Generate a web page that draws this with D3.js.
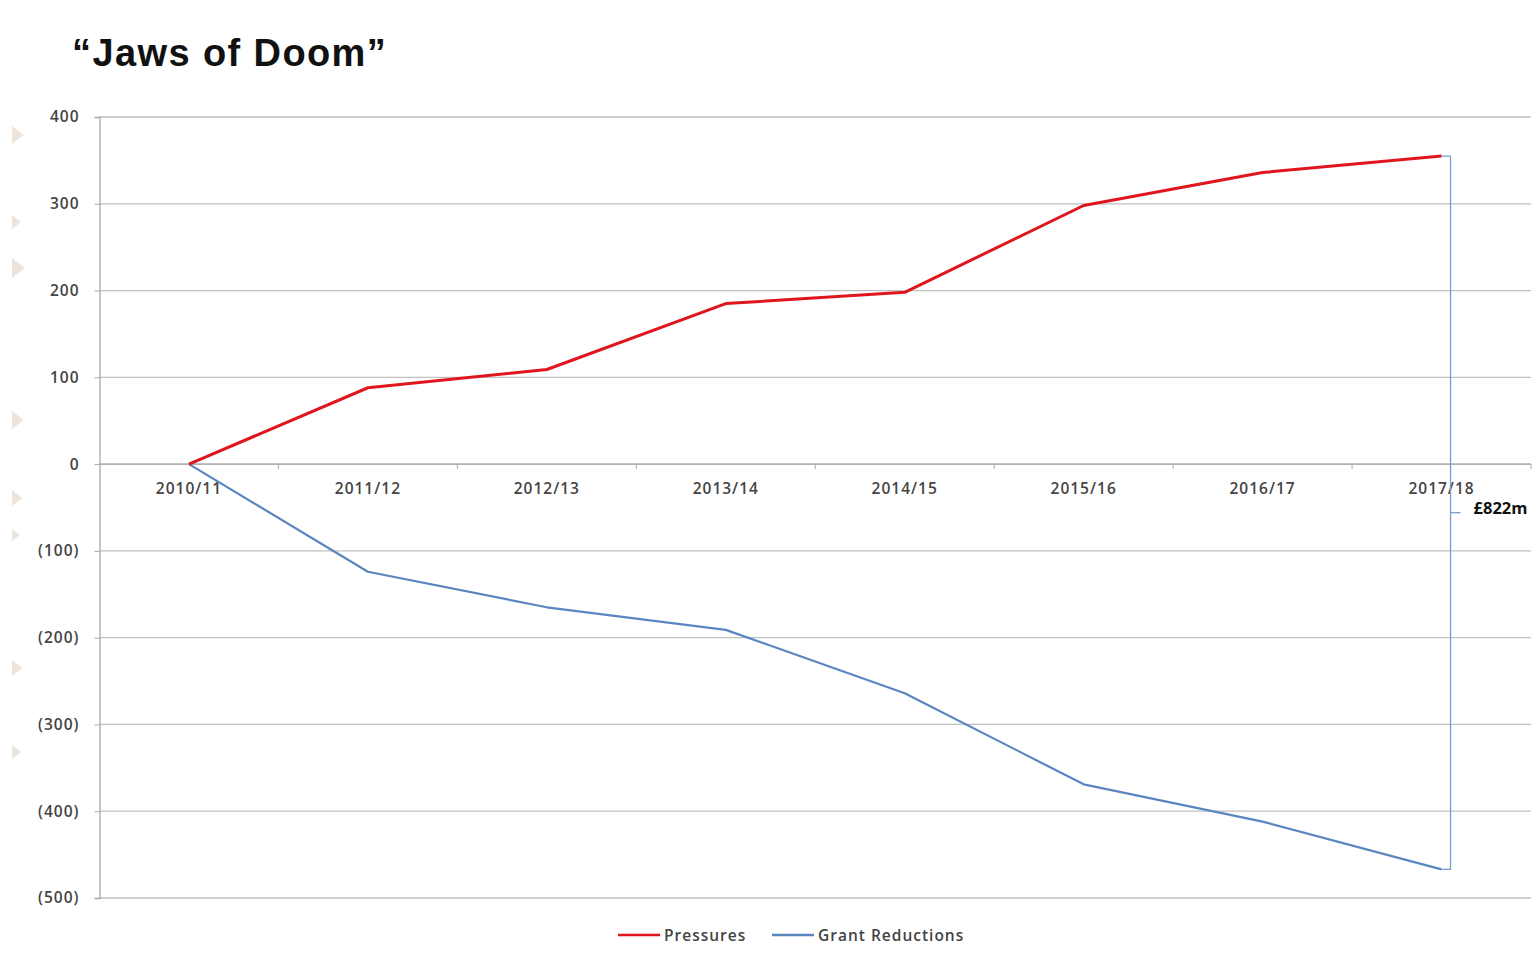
<!DOCTYPE html>
<html>
<head>
<meta charset="utf-8">
<script src="https://cdn.jsdelivr.net/npm/d3@7"></script>
<style>
  body { margin: 0; background: #fff; }
  svg { display: block; }
</style>
</head>
<body>
<div id="chart"></div>
<script>
const years = ["2010/11", "2011/12", "2012/13", "2013/14", "2014/15", "2015/16", "2016/17", "2017/18"]
const pressures = [0, 88, 109, 185, 198, 298, 336, 355]
const grant_reductions = [0, -124, -165, -191, -264, -369, -412, -467]
const y_ticks = [400, 300, 200, 100, 0, -100, -200, -300, -400, -500]
const gap_label = "£822m"

const width = 1535,
    height = 953

const margin = { top: 117, right: 4, bottom: 55, left: 99.5 }

const label_font = "'Open Sans', sans-serif"

const svg = d3.select("#chart")
    .append("svg")
    .attr("width", width)
    .attr("height", height)

const x = d3.scaleBand()
    .domain(years)
    .range([margin.left, width - margin.right])
    .padding(0)

const y = d3.scaleLinear()
    .domain([-500, 400])
    .range([height - margin.bottom, margin.top])

const fmt = v => v < 0 ? `(${Math.abs(v)})` : `${v}`
const cx = d => x(d) + x.bandwidth() / 2

// faint slide decoration down the left edge
const deco = [[135, 9], [222, 7], [268, 10], [420, 9], [498, 8], [535, 6], [668, 8], [752, 7]]
svg.append("g")
    .selectAll("path")
    .data(deco)
    .join("path")
    .attr("d", ([cy, s]) => `M12,${cy - s}L${12 + s * 1.3},${cy}L12,${cy + s}Z`)
    .attr("fill", "#ede5dc")

// title
svg.append("text")
    .attr("x", 72)
    .attr("y", 66)
    .style("font-family", "'Liberation Sans', Arial, sans-serif")
    .style("font-weight", "bold")
    .style("font-size", "38px")
    .style("letter-spacing", "1.4px")
    .style("fill", "#111")
    .text("\u201cJaws of Doom\u201d")

// gridlines
svg.append("g")
    .selectAll("line")
    .data(y_ticks)
    .join("line")
    .attr("x1", margin.left)
    .attr("x2", width - margin.right)
    .attr("y1", d => y(d))
    .attr("y2", d => y(d))
    .attr("stroke", "#c0c0c0")
    .attr("stroke-width", 1.3)

const style_label = sel => sel
    .style("font-family", label_font)
    .style("font-size", "15.5px")
    .style("font-weight", "600")
    .style("letter-spacing", "1px")
    .style("fill", "#444")

// y axis
const yAxis = svg.append("g")
    .attr("transform", `translate(${margin.left},0)`)
    .call(d3.axisLeft(y).tickValues(y_ticks).tickFormat(fmt).tickSizeOuter(0).tickSize(5).tickPadding(15))
yAxis.select(".domain").attr("stroke", "#a8a8a8").attr("stroke-width", 1.3)
yAxis.selectAll(".tick line").attr("stroke", "#a8a8a8")
yAxis.selectAll("text").call(style_label)

// x axis on the zero line, ticks between categories
const xAxis = svg.append("g")
    .attr("transform", `translate(0,${y(0)})`)
xAxis.append("line")
    .attr("x1", x.range()[0])
    .attr("x2", x.range()[1])
    .attr("stroke", "#a8a8a8")
    .attr("stroke-width", 1.3)
xAxis.selectAll(".sep")
    .data(years)
    .join("line")
    .attr("class", "sep")
    .attr("x1", d => x(d) + x.bandwidth())
    .attr("x2", d => x(d) + x.bandwidth())
    .attr("y1", 0)
    .attr("y2", 5)
    .attr("stroke", "#a8a8a8")
xAxis.selectAll("text")
    .data(years)
    .join("text")
    .attr("x", cx)
    .attr("y", 30)
    .attr("text-anchor", "middle")
    .call(style_label)
    .text(d => d)

// lines
const line = d3.line()
    .x((d, i) => cx(years[i]))
    .y(d => y(d))

svg.append("path")
    .datum(grant_reductions)
    .attr("d", line)
    .attr("fill", "none")
    .attr("stroke", "#5a86bf")
    .attr("stroke-width", 2.2)
    .attr("stroke-linejoin", "round")

svg.append("path")
    .datum(pressures)
    .attr("d", line)
    .attr("fill", "none")
    .attr("stroke", "#e0161f")
    .attr("stroke-width", 3)
    .attr("stroke-linejoin", "round")

// gap bracket
const last = years[years.length - 1]
const top_v = pressures[pressures.length - 1],
    bot_v = grant_reductions[grant_reductions.length - 1]
const bx = cx(last) + 9
const bracket = svg.append("g")
    .attr("fill", "none")
    .attr("stroke", "#7b9dc9")
    .attr("stroke-width", 1.3)
bracket.append("path")
    .attr("d", `M${cx(last)},${y(top_v)}H${bx}V${y(bot_v)}H${cx(last)}`)
const mid = y((top_v + bot_v) / 2)
bracket.append("line")
    .attr("x1", bx)
    .attr("x2", bx + 10)
    .attr("y1", mid)
    .attr("y2", mid)
svg.append("text")
    .attr("x", bx + 23)
    .attr("y", mid + 1)
    .style("font-family", label_font)
    .style("font-size", "16.5px")
    .style("font-weight", "bold")
    .style("fill", "#111")
    .text(gap_label)

// legend
const legend_items = [
    { name: "Pressures", color: "#e0161f", x: 618 },
    { name: "Grant Reductions", color: "#5a86bf", x: 772 }
]
const lg = svg.append("g").attr("transform", `translate(0,${height - 18})`)
const item = lg.selectAll("g")
    .data(legend_items)
    .join("g")
    .attr("transform", d => `translate(${d.x},0)`)
item.append("line")
    .attr("x1", 0)
    .attr("x2", 42)
    .attr("stroke", d => d.color)
    .attr("stroke-width", 2.5)
item.append("text")
    .attr("x", 46)
    .attr("y", 6)
    .call(style_label)
    .text(d => d.name)
</script>
</body>
</html>
